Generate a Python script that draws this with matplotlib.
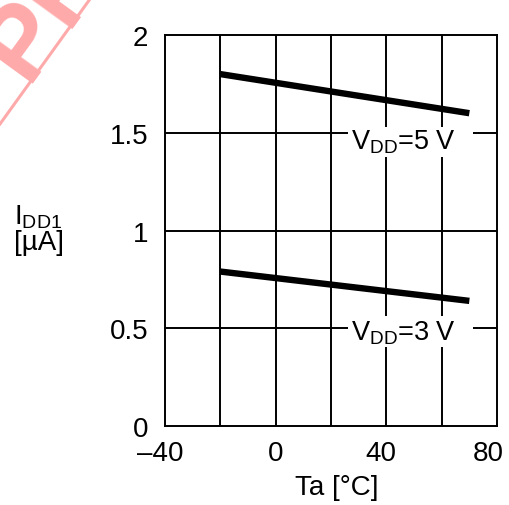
import matplotlib
matplotlib.use("Agg")
import matplotlib.pyplot as plt
from matplotlib.patches import Rectangle
from matplotlib.transforms import ScaledTranslation

plt.rcParams['font.family'] = ['Liberation Sans', 'DejaVu Sans']
plt.rcParams['mathtext.fontset'] = 'custom'
plt.rcParams['mathtext.rm'] = 'Liberation Sans'
plt.rcParams['mathtext.it'] = 'Liberation Sans'

# Data
ta = [-20, 70]
idd_5v = [1.80, 1.60]
idd_3v = [0.79, 0.64]
xticks = [-40, 0, 40, 80]
xticklabels = ['\u201340', '0', '40', '80']
yticks = [0, 0.5, 1, 1.5, 2]
yticklabels = ['0', '0.5', '1', '1.5', '2']
series_labels = [r'$\mathrm{V_{DD}}$=5 V', r'$\mathrm{V_{DD}}$=3 V']

fig = plt.figure(figsize=(5.10, 5.06), dpi=100)
W, H = 510, 506
ax = fig.add_axes([165 / W, 1 - 427 / H, 332 / W, 391 / H])
ax.set_xlim(-40, 80)
ax.set_ylim(0, 2)

for x in range(-20, 80, 20):
    ax.axvline(x, color='black', lw=1.4, zorder=1)
for y in [0.5, 1, 1.5]:
    ax.axhline(y, color='black', lw=1.4, zorder=1)
for s in ax.spines.values():
    s.set_linewidth(1.4)

ax.plot(ta, idd_5v, color='black', lw=4.6, solid_capstyle='butt', zorder=3)
ax.plot(ta, idd_3v, color='black', lw=4.6, solid_capstyle='butt', zorder=3)

# label boxes (white background breaking the grid)
ax.add_patch(Rectangle((26.1, 1.376), 45.2, 0.153, fc='white', ec='none', zorder=2))
ax.add_patch(Rectangle((26.1, 0.404), 45.2, 0.159, fc='white', ec='none', zorder=2))
ax.text(27.4, 1.458, series_labels[0], fontsize=19.5, ha='left', va='center', zorder=4)
ax.text(27.4, 0.482, series_labels[1], fontsize=19.5, ha='left', va='center', zorder=4)

ax.set_xticks(xticks)
ax.set_xticklabels(xticklabels)
ax.set_yticks(yticks)
ax.set_yticklabels(yticklabels)
ax.tick_params(length=0, labelsize=20, pad=12)
ax.tick_params(axis='x', pad=10)
offsets_px = [-5, 0, -5, -9]
for lab, dx in zip(ax.get_xticklabels(), offsets_px):
    lab.set_transform(lab.get_transform() + ScaledTranslation(dx / 100, 0, fig.dpi_scale_trans))

fig.text(337 / W, 1 - 488 / H, 'Ta [\u00b0C]', fontsize=20, ha='center', va='center')
fig.text(14 / W, 1 - 230 / H, r'$\mathrm{I_{DD1}}$' + '\n[\u00b5A]', fontsize=20,
         ha='left', va='center', linespacing=0.95)

# watermark
fig.text(26 / W, 1 - 84 / H, 'PRELIMINARY', fontsize=74, fontweight='bold',
         color='#ffaaaa', rotation=54, rotation_mode='anchor', ha='left', va='baseline',
         clip_on=True)
fig.add_artist(plt.Line2D([0, 90 / W], [1 - 125 / H, 1.0], color='#ffaaaa', lw=2.2,
                          transform=fig.transFigure))

fig.savefig('out.png', dpi=100)
